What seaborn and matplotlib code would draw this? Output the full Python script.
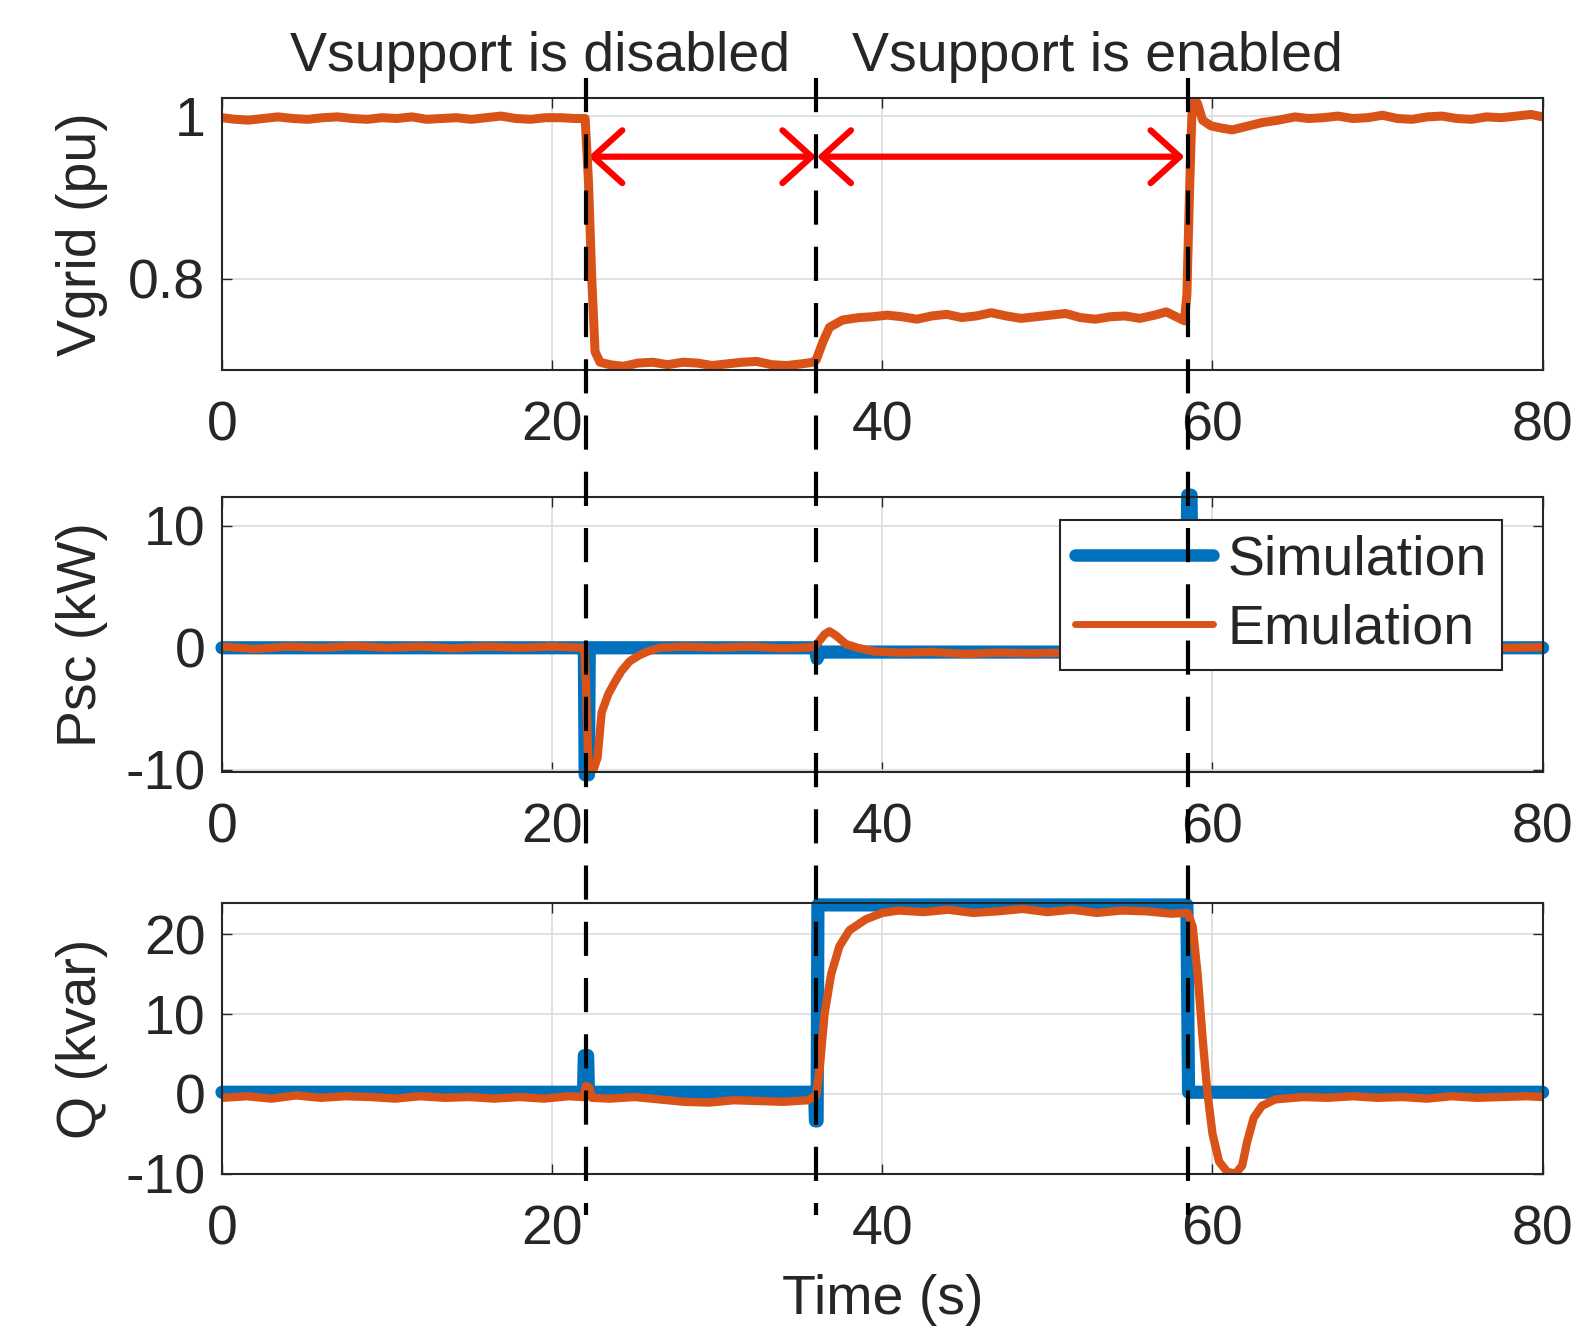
import matplotlib
matplotlib.use("Agg")
import matplotlib.pyplot as plt
import matplotlib.transforms as mtransforms
from matplotlib.lines import Line2D
from matplotlib.patches import FancyArrowPatch, ArrowStyle
import pandas as pd
import seaborn as sns

# --- Datos (tiempo en s) ---
vgrid_emu = [
    (0, 0.998), (0.8, 0.996), (1.6, 0.995), (2.5, 0.997), (3.4, 0.999), (4.3, 0.997),
    (5.2, 0.996), (6.1, 0.998), (7.0, 0.999), (7.9, 0.997), (8.8, 0.996), (9.7, 0.998),
    (10.6, 0.997), (11.5, 0.999), (12.4, 0.996), (13.3, 0.997), (14.2, 0.998), (15.1, 0.996),
    (16.0, 0.998), (16.9, 1.000), (17.8, 0.997), (18.7, 0.996), (19.6, 0.998), (20.5, 0.998),
    (21.4, 0.997), (22.0, 0.997), (22.2, 0.92), (22.4, 0.80), (22.6, 0.71), (22.9, 0.697),
    (23.5, 0.694), (24.3, 0.692), (25.2, 0.696), (26.1, 0.697), (27.0, 0.694), (27.9, 0.697),
    (28.8, 0.696), (29.7, 0.693), (30.6, 0.695), (31.5, 0.697), (32.4, 0.698), (33.3, 0.694),
    (34.2, 0.693), (35.1, 0.695), (35.8, 0.697), (36.0, 0.700), (36.4, 0.722), (36.8, 0.740),
    (37.6, 0.749), (38.6, 0.752), (39.4, 0.753), (40.3, 0.755), (41.2, 0.753), (42.1, 0.750),
    (43.0, 0.754), (43.9, 0.756), (44.8, 0.752), (45.7, 0.754), (46.6, 0.758), (47.5, 0.754),
    (48.4, 0.751), (49.3, 0.753), (50.2, 0.755), (51.1, 0.757), (52.0, 0.752), (52.9, 0.750),
    (53.8, 0.753), (54.7, 0.754), (55.6, 0.751), (56.5, 0.755), (57.2, 0.759), (57.9, 0.752),
    (58.3, 0.748), (58.45, 0.78), (58.6, 0.90), (58.75, 1.00), (58.9, 1.022), (59.1, 1.015),
    (59.4, 0.995), (59.9, 0.988), (60.6, 0.985), (61.2, 0.983), (62.0, 0.987), (63.0, 0.992),
    (64.0, 0.995), (65.0, 0.999), (65.8, 0.997), (66.7, 0.998), (67.6, 1.000), (68.5, 0.997),
    (69.4, 0.998), (70.3, 1.001), (71.2, 0.997), (72.1, 0.996), (73.0, 0.999), (73.9, 1.000),
    (74.8, 0.997), (75.7, 0.996), (76.6, 0.999), (77.5, 0.998), (78.4, 1.000), (79.3, 1.002),
    (80, 0.999),
]

psc_sim = [
    (0, 0), (21.95, 0), (22.0, -10.4), (22.2, -10.4), (22.25, 0), (35.95, 0),
    (36.05, -0.9), (36.2, -0.35), (58.4, -0.35), (58.5, 12.5), (58.7, 12.5), (58.8, 0), (80, 0),
]

psc_emu = [
    (0, 0.1), (2, -0.1), (4, 0.1), (6, 0.0), (8, 0.15), (10, 0.0), (12, 0.1), (14, -0.05),
    (16, 0.1), (18, 0.0), (20, 0.1), (21.95, 0.0), (22.05, -3.0), (22.2, -9.8), (22.5, -10.0),
    (22.75, -9.0), (23.0, -5.3), (23.4, -3.8), (23.8, -2.8), (24.2, -1.9), (24.7, -1.1),
    (25.3, -0.6), (25.8, -0.3), (26.5, 0.0), (28, 0.1), (30, 0.0), (32, 0.1), (34, -0.05),
    (35.8, 0.05), (36.1, 0.4), (36.5, 1.1), (36.8, 1.35), (37.2, 1.0), (37.8, 0.3),
    (38.5, 0.0), (39.5, -0.3), (41, -0.4), (43, -0.35), (45, -0.5), (47, -0.4), (49, -0.45),
    (51, -0.4), (53, -0.5), (55, -0.4), (57, -0.4), (58.4, -0.4), (58.6, 9.5), (58.8, 9.0),
    (59.1, 0.0), (60, -0.1), (63, 0.0), (66, 0.1), (70, 0.0), (74, 0.05), (78, 0.0), (80, 0.05),
]

q_sim = [
    (0, 0.2), (21.9, 0.2), (21.95, 4.8), (22.15, 4.8), (22.2, 0.2), (35.9, 0.2),
    (35.95, -3.4), (36.05, -3.4), (36.1, 23.7), (58.45, 23.7), (58.55, 0.2), (80, 0.2),
]

q_emu = [
    (0, -0.5), (1.5, -0.3), (3, -0.6), (4.5, -0.2), (6, -0.5), (7.5, -0.3), (9, -0.4),
    (10.5, -0.6), (12, -0.3), (13.5, -0.5), (15, -0.4), (16.5, -0.6), (18, -0.4), (19.5, -0.6),
    (21, -0.3), (21.9, -0.4), (22.05, 1.0), (22.25, 0.8), (22.4, -0.5), (23.5, -0.6),
    (25, -0.4), (26.5, -0.7), (28, -1.0), (29.5, -1.1), (31, -0.8), (32.5, -0.9), (34, -1.0),
    (35.5, -0.8), (36.0, -0.2), (36.2, 3.0), (36.5, 10.0), (36.9, 15.0), (37.4, 18.5),
    (38.0, 20.5), (39.0, 21.9), (40.0, 22.7), (41.0, 23.0), (42.5, 22.8), (44.0, 23.1),
    (45.5, 22.7), (47.0, 22.9), (48.5, 23.2), (50.0, 22.8), (51.5, 23.1), (53.0, 22.7),
    (54.5, 23.0), (56.0, 22.9), (57.5, 22.6), (58.5, 22.7), (58.8, 21.0), (59.1, 15.0),
    (59.4, 7.0), (59.7, 0.0), (60.0, -5.0), (60.4, -8.5), (60.9, -9.8), (61.4, -10.0),
    (61.8, -9.0), (62.1, -6.0), (62.5, -3.0), (63.0, -1.5), (63.8, -0.7), (65.5, -0.4),
    (67, -0.5), (68.5, -0.3), (70, -0.5), (71.5, -0.4), (73, -0.6), (74.5, -0.3), (76, -0.5),
    (77.5, -0.4), (79, -0.3), (80, -0.4),
]

event_times = [22.05, 36.0, 58.5]          # lineas punteadas
arrow_spans = [(22.2, 36.0), (36.05, 58.3)]  # flechas rojas
arrow_y = 0.95

x_ticks = [0, 20, 40, 60, 80]
y_ticks = [[0.8, 1.0], [-10, 0, 10], [-10, 0, 10, 20]]
y_ticklabels = [["0.8", "1"], ["-10", "0", "10"], ["-10", "0", "10", "20"]]
y_limits = [(0.687, 1.0224), (-10.17, 12.31), (-10.0, 23.92)]
y_labels = ["Vgrid (pu)", "Psc (kW)", "Q (kvar)"]
top_texts = ["Vsupport is disabled", "Vsupport is enabled"]

BLUE = "#0072BD"
ORANGE = "#D95319"

# --- Estilo ---
sns.set_style("ticks")
plt.rcParams["font.family"] = ["Liberation Sans", "DejaVu Sans"]
FS = 40

fig = plt.figure(figsize=(15.82, 13.28), dpi=100)
L, W = 220 / 1568, 1309 / 1568
ax1 = fig.add_axes([L, 0.7211, W, 0.2052])
ax2 = fig.add_axes([L, 0.4187, W, 0.2067])
ax3 = fig.add_axes([L, 0.1163, W, 0.2036])
axes = [ax1, ax2, ax3]


def to_df(pairs):
    return pd.DataFrame(pairs, columns=["t", "v"])


def draw(ax, pairs, color, lw, clip=True):
    df = to_df(pairs)
    sns.lineplot(data=df, x="t", y="v", ax=ax, color=color, lw=lw, sort=False,
                 estimator=None, solid_capstyle="round", solid_joinstyle="round",
                 clip_on=clip)


draw(ax1, vgrid_emu, ORANGE, 6.5)
draw(ax2, psc_sim, BLUE, 9.5, clip=False)
draw(ax2, psc_emu, ORANGE, 6.0)
draw(ax3, q_sim, BLUE, 9.5, clip=False)
draw(ax3, q_emu, ORANGE, 6.0)

for i, ax in enumerate(axes):
    ax.set_xlim(0, 80)
    ax.set_ylim(*y_limits[i])
    ax.set_xticks(x_ticks)
    ax.set_xticklabels([str(x) for x in x_ticks])
    ax.set_yticks(y_ticks[i])
    ax.set_yticklabels(y_ticklabels[i])
    ax.grid(True, color="#dcdcdc", lw=1.2)
    ax.set_axisbelow(True)
    ax.tick_params(direction="in", length=7, width=1, top=True, right=True,
                   labelsize=FS, colors="#262626")
    ax.tick_params(axis="x", pad=22)
    ax.tick_params(axis="y", pad=12)
    for s in ax.spines.values():
        s.set_color("#262626")
        s.set_linewidth(1.5)
    ax.set_xlabel("")
    ax.set_ylabel(y_labels[i], fontsize=FS, color="#262626")
    ax.yaxis.set_label_coords(-0.0863, 0.5)

ax3.set_xlabel("Time (s)", fontsize=FS, color="#262626")
ax3.xaxis.set_label_coords(0.5, -0.373)

# --- Flechas rojas ---
for a, b in arrow_spans:
    arr = FancyArrowPatch((a, arrow_y), (b, arrow_y),
                          arrowstyle=ArrowStyle("<->", head_length=21, head_width=19),
                          mutation_scale=1, lw=4.5, color="red",
                          shrinkA=0, shrinkB=0, capstyle="round", joinstyle="round")
    ax1.add_patch(arr)

# --- Leyenda ---
handles = [Line2D([], [], color=BLUE, lw=9), Line2D([], [], color=ORANGE, lw=5)]
leg = ax2.legend(handles, ["Simulation", "Emulation"], loc="upper right",
                 bbox_to_anchor=(0.969, 0.919), borderaxespad=0, fontsize=FS,
                 frameon=True, fancybox=False, edgecolor="#262626", framealpha=1,
                 handlelength=2.5, handletextpad=0.25, borderpad=0.27, labelspacing=0.3)
leg.get_frame().set_linewidth(1.5)

# --- Lineas punteadas de eventos ---
trans = mtransforms.blended_transform_factory(ax3.transData, fig.transFigure)
for t in event_times:
    ax3.plot([t, t], [0.9415, 0.085], transform=trans, color="black", lw=3,
             dashes=(8.2, 5.3), clip_on=False, zorder=10)

# --- Textos superiores ---
fig.text(535 / 1568, 0.9468, top_texts[0], ha="center", va="baseline", fontsize=FS)
fig.text(1088 / 1568, 0.9468, top_texts[1], ha="center", va="baseline", fontsize=FS)

fig.savefig("out.png", dpi=100)
